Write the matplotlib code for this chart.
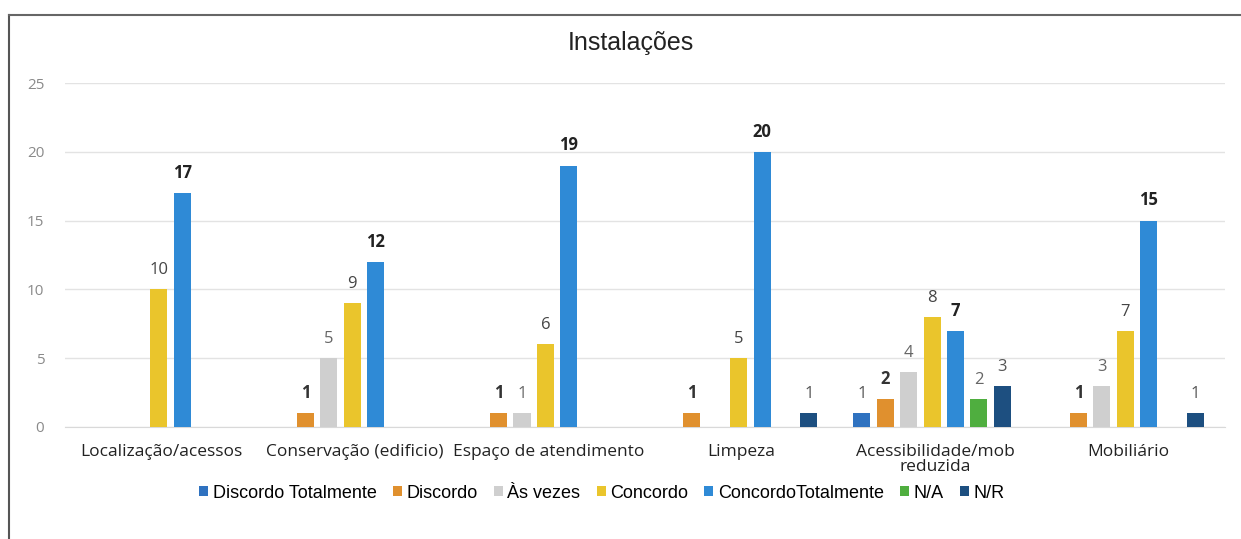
import numpy as np
import matplotlib.pyplot as plt
from matplotlib.lines import Line2D

categories = ["Localização/acessos", "Conservação (edificio)", "Espaço de atendimento",
              "Limpeza", "Acessibilidade/mob\nreduzida", "Mobiliário"]
series = ["Discordo Totalmente", "Discordo", "Às vezes", "Concordo",
          "ConcordoTotalmente", "N/A", "N/R"]
discordo_totalmente = [0, 0, 0, 0, 1, 0]
discordo = [0, 1, 1, 1, 2, 1]
as_vezes = [0, 5, 1, 0, 4, 3]
concordo = [10, 9, 6, 5, 8, 7]
concordo_totalmente = [17, 12, 19, 20, 7, 15]
n_a = [0, 0, 0, 0, 2, 0]
n_r = [0, 0, 0, 1, 3, 1]
values = [discordo_totalmente, discordo, as_vezes, concordo, concordo_totalmente, n_a, n_r]

colors = ["#2f72c0", "#e0902e", "#cfcfcf", "#eac52c", "#2f8ad6", "#4fae3f", "#1d4f80"]
label_bold = [False, True, False, False, True, False, False]
label_color = ["#555555", "#333333", "#666666", "#444444", "#222222", "#666666", "#555555"]

fig = plt.figure(figsize=(12.41, 5.39), dpi=100)
ax = fig.add_axes([0.0524, 0.2078, 0.9346, 0.6382])

xs = np.arange(len(categories))
slot = 0.121
width = 0.088
for j, (name, vals) in enumerate(zip(series, values)):
    pos = xs + (j - 3) * slot - 0.015
    bars = ax.bar(pos, vals, width, color=colors[j], label=name, zorder=3)
    for x, v in zip(pos, vals):
        if v > 0:
            ax.annotate(str(v), (x, v), xytext=(0, 8), textcoords="offset points",
                        ha="center", va="bottom", fontsize=12,
                        fontweight="bold" if label_bold[j] else "normal",
                        color=label_color[j], family="Open Sans")

ax.set_xlim(-0.5, 5.5)
ax.set_ylim(0, 25)
ax.set_yticks([0, 5, 10, 15, 20, 25])
ax.set_xticks(xs)
ax.set_xticklabels(categories, fontsize=12.5, family="Open Sans", color="#222222",
                   linespacing=0.95)
ax.tick_params(axis="x", length=0, pad=12)
ax.tick_params(axis="y", length=0, pad=15, labelsize=11, labelcolor="#8a8a8a")
for lab in ax.get_yticklabels():
    lab.set_family("Open Sans")
ax.grid(axis="y", color="#e3e3e3", linewidth=1, zorder=0)
for s in ["top", "right", "left"]:
    ax.spines[s].set_visible(False)
ax.spines["bottom"].set_color("#d9d9d9")

fig.text(0.508, 0.92, "Instalações", ha="center", va="center", fontsize=18,
         family="Liberation Sans", color="#222222")

fig.legend(loc="center", bbox_to_anchor=(0.485, 0.085), ncol=7, frameon=False,
           prop={"family": "Liberation Sans", "size": 13},
           handlelength=0.5, handleheight=0.5, handletextpad=0.25, columnspacing=0.9)

fig.add_artist(Line2D([0.0075, 0.0075], [0, 0.972], color="#555555", linewidth=1.5))
fig.add_artist(Line2D([0.0075, 1.0], [0.972, 0.972], color="#666666", linewidth=1.5))

fig.savefig("out.png", dpi=100)
